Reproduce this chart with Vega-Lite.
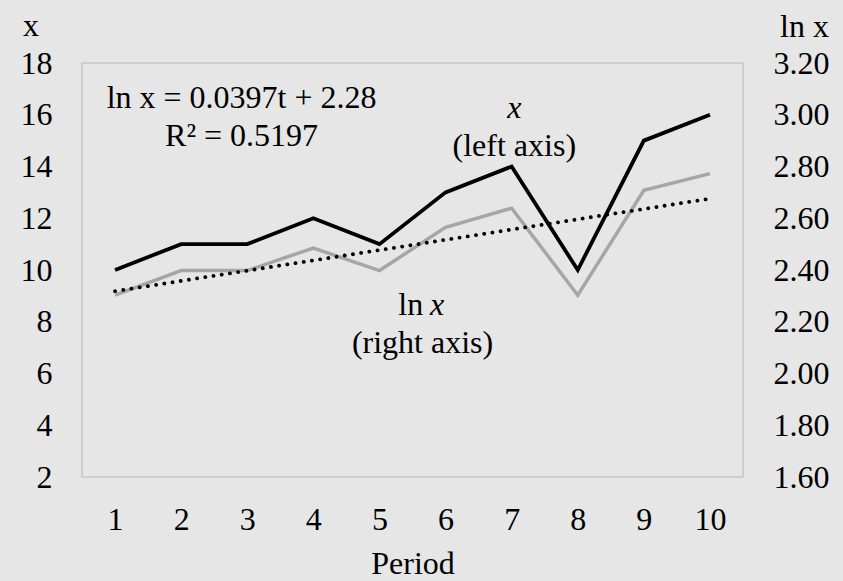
{
  "$schema": "https://vega.github.io/schema/vega-lite/v6.json",
  "width": 661,
  "height": 414,
  "autosize": {"type": "none"},
  "padding": {"left": 82, "top": 63, "right": 100, "bottom": 104},
  "background": "#E6E6E6",
  "config": {
    "view": {"stroke": "#C6C6C6", "strokeWidth": 1.5},
    "font": "Liberation Serif",
    "axis": {
      "grid": false, "domain": false, "ticks": false, "labelFlush": false,
      "labelFont": "Liberation Serif", "labelFontSize": 32, "labelColor": "#000000",
      "titleFont": "Liberation Serif", "titleFontSize": 32, "titleFontWeight": "normal", "titleColor": "#000000"
    },
    "text": {"font": "Liberation Serif", "fontSize": 32, "color": "#000000", "baseline": "alphabetic"}
  },
  "datasets": {
    "series": [
      {"t": 1, "x": 10, "lnx": 2.302585},
      {"t": 2, "x": 11, "lnx": 2.397895},
      {"t": 3, "x": 11, "lnx": 2.397895},
      {"t": 4, "x": 12, "lnx": 2.484907},
      {"t": 5, "x": 11, "lnx": 2.397895},
      {"t": 6, "x": 13, "lnx": 2.564949},
      {"t": 7, "x": 14, "lnx": 2.639057},
      {"t": 8, "x": 10, "lnx": 2.302585},
      {"t": 9, "x": 15, "lnx": 2.708050},
      {"t": 10, "x": 16, "lnx": 2.772589}
    ],
    "notesCenter": [
      {"t": 2.914, "x": 16.25, "label": "ln x = 0.0397t + 2.28"},
      {"t": 2.914, "x": 14.80, "label": "R² = 0.5197"},
      {"t": 7.04, "x": 14.41, "label": "(left axis)"},
      {"t": 5.652, "x": 6.78, "label": "(right axis)"}
    ],
    "notesCenterItalic": [
      {"t": 7.04, "x": 15.87, "label": "x"}
    ],
    "notesLeft": [
      {"t": 5.286, "x": 8.26, "label": "ln"}
    ],
    "notesLeftItalic": [
      {"t": 5.765, "x": 8.26, "label": "x"}
    ]
  },
  "layer": [
    {
      "layer": [
        {
          "data": {"name": "series"},
          "mark": {"type": "line", "color": "#000000", "strokeWidth": 3.8},
          "encoding": {
            "x": {"field": "t", "type": "quantitative", "title": "Period",
                  "scale": {"domain": [0.5, 10.5], "nice": false, "zero": false},
                  "axis": {"values": [1,2,3,4,5,6,7,8,9,10], "format": "d", "labelPadding": 27, "titleY": 96, "titleBaseline": "alphabetic"}},
            "y": {"field": "x", "type": "quantitative", "title": "x",
                  "scale": {"domain": [2, 18], "nice": false, "zero": false},
                  "axis": {"orient": "left", "values": [2,4,6,8,10,12,14,16,18], "labelPadding": 30,
                           "titleAngle": 0, "titleAlign": "center", "titleBaseline": "alphabetic", "titleX": -51.5, "titleY": -28}}
          }
        },
        {
          "data": {"name": "notesCenter"},
          "mark": {"type": "text", "align": "center"},
          "encoding": {
            "x": {"field": "t", "type": "quantitative", "title": "Period"},
            "y": {"field": "x", "type": "quantitative", "title": "x"},
            "text": {"field": "label"}
          }
        },
        {
          "data": {"name": "notesCenterItalic"},
          "mark": {"type": "text", "align": "center", "fontStyle": "italic"},
          "encoding": {
            "x": {"field": "t", "type": "quantitative", "title": "Period"},
            "y": {"field": "x", "type": "quantitative", "title": "x"},
            "text": {"field": "label"}
          }
        },
        {
          "data": {"name": "notesLeft"},
          "mark": {"type": "text", "align": "left"},
          "encoding": {
            "x": {"field": "t", "type": "quantitative", "title": "Period"},
            "y": {"field": "x", "type": "quantitative", "title": "x"},
            "text": {"field": "label"}
          }
        },
        {
          "data": {"name": "notesLeftItalic"},
          "mark": {"type": "text", "align": "left", "fontStyle": "italic"},
          "encoding": {
            "x": {"field": "t", "type": "quantitative", "title": "Period"},
            "y": {"field": "x", "type": "quantitative", "title": "x"},
            "text": {"field": "label"}
          }
        }
      ]
    },
    {
      "layer": [
        {
          "data": {"name": "series"},
          "mark": {"type": "line", "color": "#A6A6A6", "strokeWidth": 3.5},
          "encoding": {
            "x": {"field": "t", "type": "quantitative", "title": "Period"},
            "y": {"field": "lnx", "type": "quantitative", "title": "ln x",
                  "scale": {"domain": [1.6, 3.2], "nice": false, "zero": false},
                  "axis": {"orient": "right", "values": [1.6,1.8,2.0,2.2,2.4,2.6,2.8,3.0,3.2], "format": ".2f", "labelPadding": 30,
                           "titleAngle": 0, "titleAlign": "center", "titleBaseline": "alphabetic", "titleX": 61, "titleY": -27}}
          }
        },
        {
          "data": {"name": "series"},
          "transform": [{"regression": "lnx", "on": "t"}],
          "mark": {"type": "line", "color": "#000000", "strokeWidth": 3.8, "strokeDash": [0.1, 8.2], "strokeCap": "round"},
          "encoding": {
            "x": {"field": "t", "type": "quantitative", "title": "Period"},
            "y": {"field": "lnx", "type": "quantitative", "title": "ln x"}
          }
        }
      ]
    }
  ],
  "resolve": {"scale": {"y": "independent"}}
}
